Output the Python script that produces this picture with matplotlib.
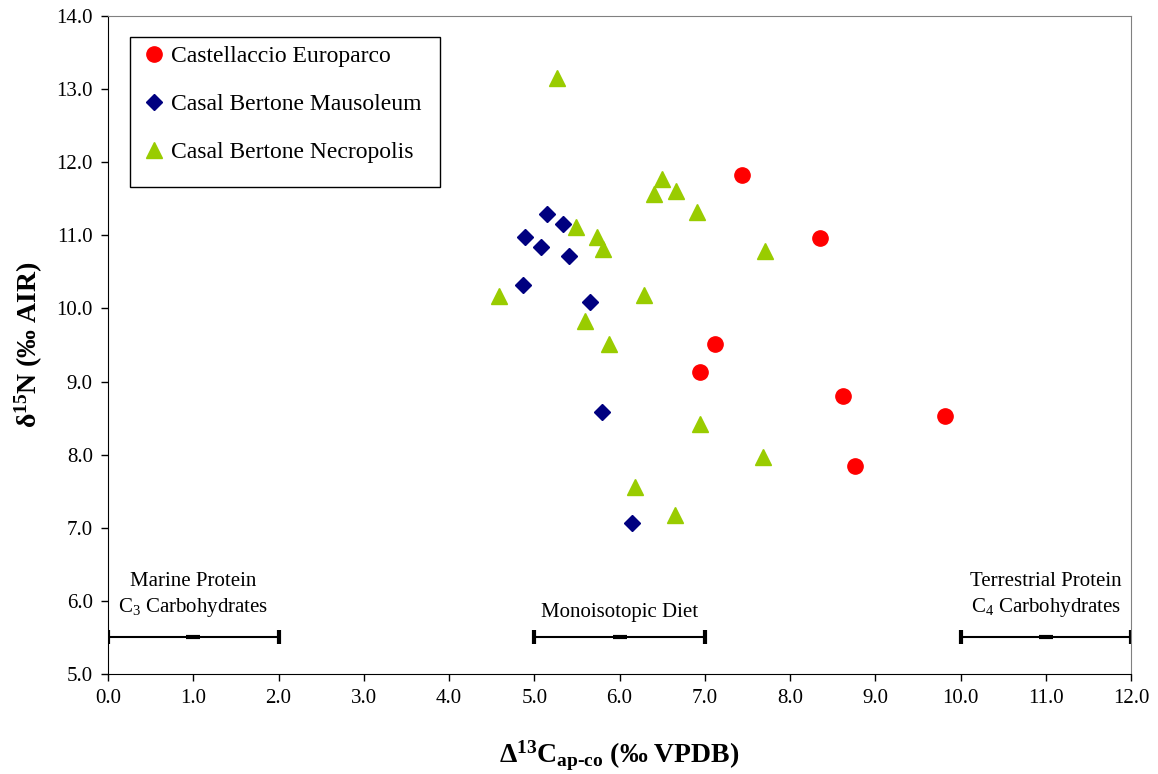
import matplotlib
matplotlib.use("Agg")
import matplotlib.pyplot as plt
from matplotlib.patches import Rectangle
import numpy as np

plt.rcParams['font.family'] = ['Liberation Serif', 'DejaVu Serif']
plt.rcParams['mathtext.fontset'] = 'custom'
plt.rcParams['mathtext.rm'] = 'Liberation Serif'
plt.rcParams['mathtext.it'] = 'Liberation Serif:italic'
plt.rcParams['mathtext.bf'] = 'Liberation Serif:bold'

# Castellaccio Europarco
eur_x = [7.44, 8.35, 7.12, 6.94, 8.62, 9.82, 8.76]
eur_y = [11.83, 10.96, 9.51, 9.13, 8.80, 8.53, 7.84]

# Casal Bertone Mausoleum
mau_x = [5.15, 5.34, 4.89, 5.08, 5.41, 4.87, 5.65, 5.79, 6.15]
mau_y = [11.29, 11.15, 10.98, 10.84, 10.72, 10.32, 10.09, 8.58, 7.07]

# Casal Bertone Necropolis
nec_x = [5.27, 6.50, 6.66, 6.40, 6.91, 5.49, 5.74, 5.81, 7.71,
         4.59, 6.29, 5.60, 5.88, 6.94, 7.68, 6.18, 6.65]
nec_y = [13.15, 11.77, 11.61, 11.57, 11.32, 11.11, 10.98, 10.81, 10.79,
         10.17, 10.18, 9.83, 9.51, 8.42, 7.97, 7.56, 7.17]

# reference ranges at the bottom
ref_mid = [1.0, 6.0, 11.0]
ref_half = [1.0, 1.0, 1.0]
ref_level = 5.5
ref_labels = ["Marine Protein\nC$_3$ Carbohydrates", "Monoisotopic Diet",
              "Terrestrial Protein\nC$_4$ Carbohydrates"]

fig = plt.figure(figsize=(11.58, 7.74), dpi=100)
ax = fig.add_axes([0.0933, 0.1292, 0.8834, 0.8501])

ax.plot(eur_x, eur_y, 'o', color='#FF0000', ms=11, mec='#FF0000', label='Castellaccio Europarco')
ax.plot(mau_x, mau_y, 'D', color='#000080', ms=8, mec='#000080', label='Casal Bertone Mausoleum')
ax.plot(nec_x, nec_y, '^', color='#99CC00', ms=12, mec='#99CC00', label='Casal Bertone Necropolis')

for m, h, lab in zip(ref_mid, ref_half, ref_labels):
    ax.errorbar([m], [ref_level], xerr=[h], fmt='_', color='black', ms=10, mew=3,
                elinewidth=1.5, capsize=5, capthick=1.5)
    ty = ref_level + 0.25 if '\n' in lab else ref_level + 0.21
    ax.text(m, ty, lab, ha='center', va='bottom', fontsize=15, linespacing=1.3)

ax.set_xlim(0, 12)
ax.set_ylim(5, 14)
ax.set_xticks(np.arange(0, 12.5, 1))
ax.set_yticks(np.arange(5, 14.5, 1))
ax.xaxis.set_major_formatter(matplotlib.ticker.FormatStrFormatter('%.1f'))
ax.yaxis.set_major_formatter(matplotlib.ticker.FormatStrFormatter('%.1f'))
ax.tick_params(direction='out', length=5, width=1, labelsize=15, pad=6)

ax.spines['top'].set_color('#808080')
ax.spines['right'].set_color('#808080')
ax.spines['left'].set_color('black')
ax.spines['bottom'].set_color('black')

ax.set_xlabel('Δ$^{\\mathbf{13}}$C$_{\\mathbf{ap‐co}}$ (‰ VPDB)', fontsize=20,
              fontweight='bold', labelpad=22)
ax.set_ylabel('δ$^{\\mathbf{15}}$N (‰ AIR)', fontsize=20, fontweight='bold', labelpad=8)

# legend box drawn separately (it has extra room at the bottom)
ax.add_patch(Rectangle((0.0215, 0.740), 0.303, 0.228, transform=ax.transAxes,
                       facecolor='white', edgecolor='black', lw=1.0, zorder=4))
leg = ax.legend(loc='upper left', bbox_to_anchor=(0.029, 0.966), borderaxespad=0,
                fontsize=17, frameon=False,
                handlelength=0.8, handletextpad=0.3, labelspacing=1.12,
                borderpad=0.3, numpoints=1)
leg.set_zorder(5)

fig.savefig('out.png', dpi=100)
